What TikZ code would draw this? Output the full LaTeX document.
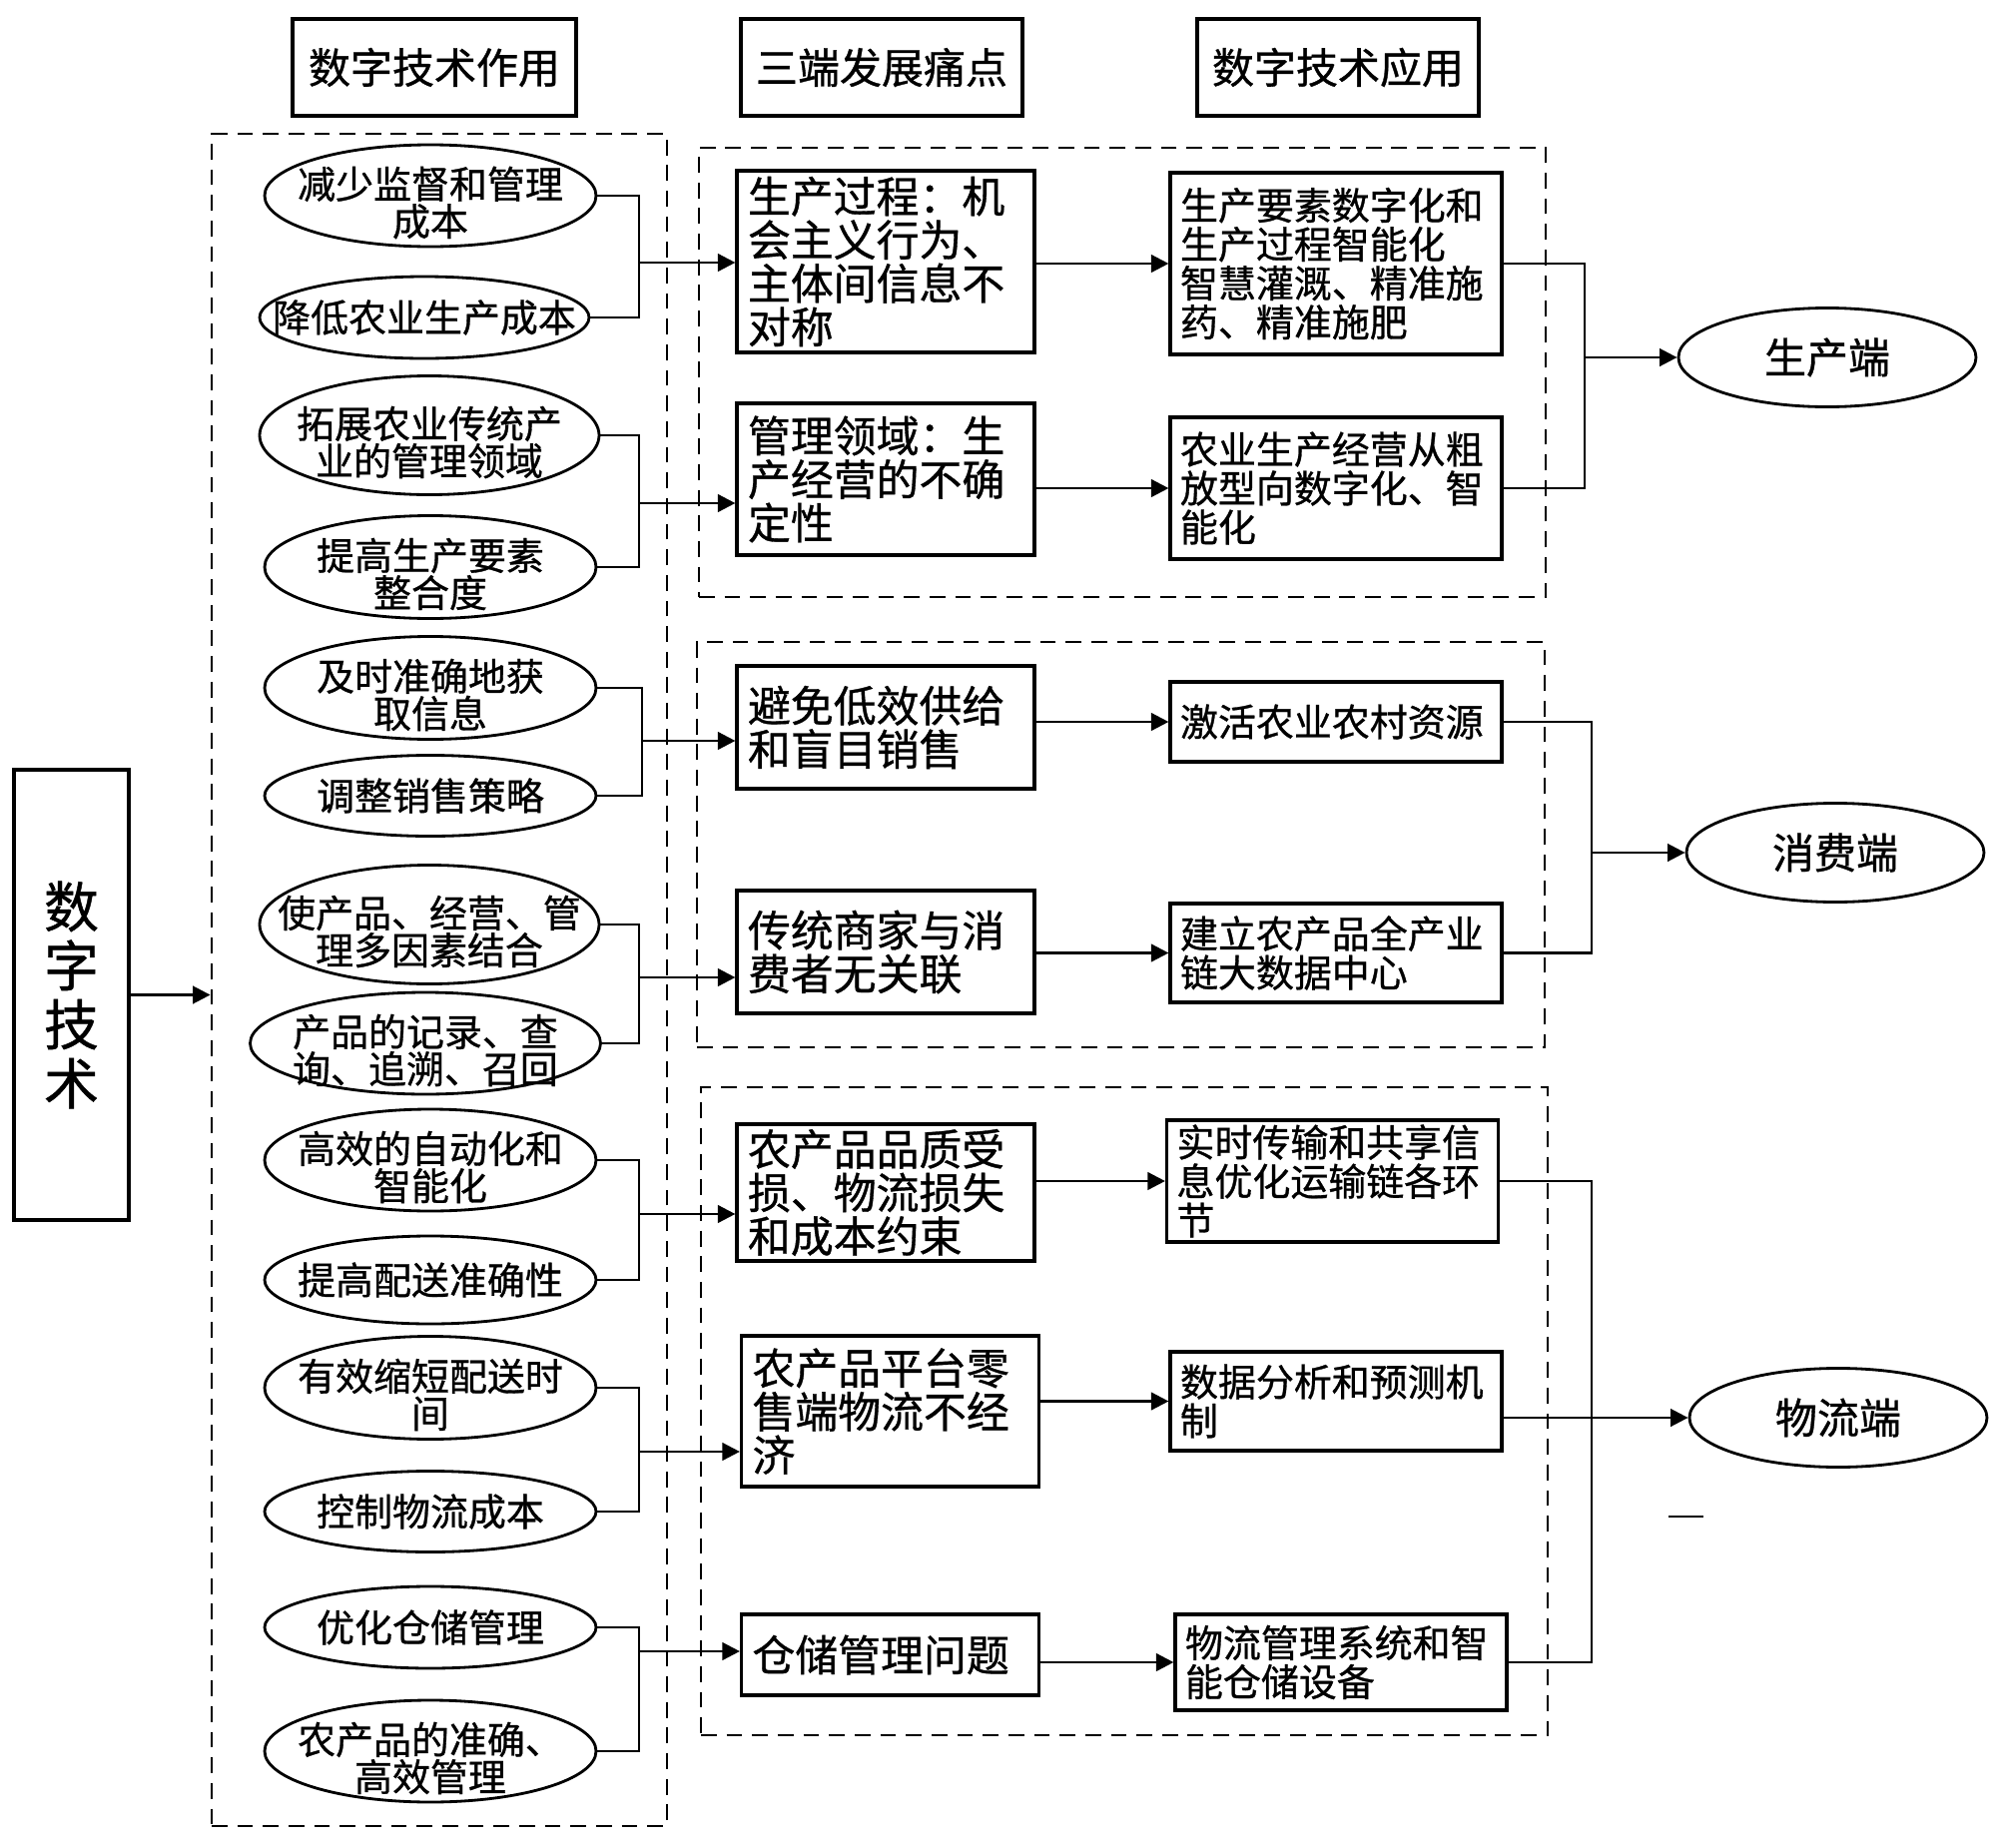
\documentclass[tikz,border=0pt]{standalone}
\usepackage{fontspec}
\setmainfont{Noto Sans CJK SC}[FakeBold=0.8]
\usetikzlibrary{shapes.geometric,arrows.meta,calc}
\newcommand{\fz}[2]{\fontsize{#1}{#2}\selectfont}
\begin{document}
\begin{tikzpicture}[x=0.1mm,y=-0.1mm,
  ln/.style={line width=0.75pt},
  arr/.style={line width=0.75pt,-{Triangle[length=5pt,width=5pt]}},
  dbox/.style={draw,rectangle,inner sep=0,dash pattern=on 4.5pt off 2.8pt,line width=0.8pt},
  hbox/.style={draw,line width=0.9pt,rectangle,inner sep=0,align=center,font={\fz{11.95pt}{13pt}}},
  mbox/.style={draw,line width=0.9pt,rectangle,inner xsep=1.1mm,inner ysep=0.3mm,text width=27.6mm,align=left,font={\fz{12.2pt}{12.4pt}}},
  rbox/.style={draw,line width=0.9pt,rectangle,inner xsep=1.0mm,inner ysep=0.3mm,text width=31.2mm,align=left,font={\fz{10.8pt}{11.1pt}}},
  ell/.style={draw,ellipse,line width=0.8pt,inner sep=0},
  etxt/.style={inner sep=0,align=center,font={\fz{10.8pt}{10.6pt}}},
  etxtb/.style={etxt,yshift=-0.7mm},
  tell/.style={draw,ellipse,line width=0.8pt,inner sep=0,minimum width=29.8mm,minimum height=9.9mm,font={\fz{11.95pt}{13pt}}},
]
\useasboundingbox (0,0) rectangle (2000,1851);

% dashed groups
\node[dbox,minimum width=45.6mm,minimum height=169.5mm] (lb) at (440,981.5) {};
\node[dbox,minimum width=84.8mm,minimum height=45.0mm] (rb1) at (1124,373) {};
\node[dbox,minimum width=84.9mm,minimum height=40.6mm] (rb2) at (1122.5,846) {};
\node[dbox,minimum width=84.8mm,minimum height=64.9mm] (rb3) at (1126,1413.5) {};

% headers
\node[hbox,minimum width=28.4mm,minimum height=9.7mm] (h1) at (435,67.5) {数字技术作用};
\node[hbox,minimum width=28.2mm,minimum height=9.7mm] (h2) at (883,67.5) {三端发展痛点};
\node[hbox,minimum width=28.2mm,minimum height=9.7mm] (h3) at (1340,67.5) {数字技术应用};

% digital technology
\node[hbox,minimum width=11.5mm,minimum height=45.1mm,font={\fz{15.6pt}{16.8pt}}] (d) at (71.5,996.5) {数\\字\\技\\术};

% left ellipses
\node[ell,minimum width=33.2mm,minimum height=10.2mm] (e1) at (431,196) {};
\node[etxtb] (e1t) at (e1) {减少监督和管理\\成本};
\node[ell,minimum width=33.0mm,minimum height=8.2mm] (e2) at (425,318) {};
\node[etxt] (e2t) at (e2) {降低农业生产成本};
\node[ell,minimum width=34.0mm,minimum height=11.9mm] (e3) at (430,436) {};
\node[etxtb] (e3t) at (e3) {拓展农业传统产\\业的管理领域};
\node[ell,minimum width=33.2mm,minimum height=10.3mm] (e4) at (431,568) {};
\node[etxtb] (e4t) at (e4) {提高生产要素\\整合度};
\node[ell,minimum width=33.2mm,minimum height=10.3mm] (e5) at (431,689) {};
\node[etxtb] (e5t) at (e5) {及时准确地获\\取信息};
\node[ell,minimum width=33.2mm,minimum height=8.1mm] (e6) at (431,797) {};
\node[etxt] (e6t) at (e6) {调整销售策略};
\node[ell,minimum width=34.0mm,minimum height=11.9mm] (e7) at (430,926) {};
\node[etxtb] (e7t) at (e7) {使产品、经营、管\\理多因素结合};
\node[ell,minimum width=35.1mm,minimum height=10.2mm] (e8) at (426,1045) {};
\node[etxtb] (e8t) at (e8) {产品的记录、查\\询、追溯、召回};
\node[ell,minimum width=33.2mm,minimum height=10.2mm] (e9) at (431,1162) {};
\node[etxtb] (e9t) at (e9) {高效的自动化和\\智能化};
\node[ell,minimum width=33.2mm,minimum height=8.8mm] (e10) at (431,1282) {};
\node[etxt] (e10t) at (e10) {提高配送准确性};
\node[ell,minimum width=33.2mm,minimum height=10.3mm] (e11) at (431,1390) {};
\node[etxtb] (e11t) at (e11) {有效缩短配送时\\间};
\node[ell,minimum width=33.2mm,minimum height=8.1mm] (e12) at (431,1514) {};
\node[etxt] (e12t) at (e12) {控制物流成本};
\node[ell,minimum width=33.2mm,minimum height=8.2mm] (e13) at (431,1630) {};
\node[etxt] (e13t) at (e13) {优化仓储管理};
\node[ell,minimum width=33.2mm,minimum height=10.2mm] (e14) at (431,1754) {};
\node[etxtb] (e14t) at (e14) {农产品的准确、\\高效管理};

% middle boxes
\node[mbox,minimum height=18.2mm] (m1) at (887,262) {生产过程：机\\会主义行为、\\主体间信息不\\对称};
\node[mbox,minimum height=15.2mm] (m2) at (887,480) {管理领域：生\\产经营的不确\\定性};
\node[mbox,minimum height=12.3mm] (m3) at (887,728.5) {避免低效供给\\和盲目销售};
\node[mbox,minimum height=12.3mm] (m4) at (887,953.5) {传统商家与消\\费者无关联};
\node[mbox,minimum height=13.7mm] (m5) at (887,1194.5) {农产品品质受\\损、物流损失\\和成本约束};
\node[mbox,minimum height=15.1mm] (m6) at (891.5,1413.5) {农产品平台零\\售端物流不经\\济};
\node[mbox,minimum height=8.1mm] (m7) at (891.5,1657.5) {仓储管理问题};

% right boxes
\node[rbox,minimum height=18.2mm] (r1) at (1338,264) {生产要素数字化和\\生产过程智能化\\智慧灌溉、精准施\\药、精准施肥};
\node[rbox,minimum height=14.2mm] (r2) at (1338,489) {农业生产经营从粗\\放型向数字化、智\\能化};
\node[rbox,minimum height=8.0mm] (r3) at (1338,723) {激活农业农村资源};
\node[rbox,minimum height=9.9mm] (r4) at (1338,954.5) {建立农产品全产业\\链大数据中心};
\node[rbox,minimum height=12.2mm] (r5) at (1334.5,1183) {实时传输和共享信\\息优化运输链各环\\节};
\node[rbox,minimum height=9.9mm] (r6) at (1338,1403.5) {数据分析和预测机\\制};
\node[rbox,minimum height=9.6mm] (r7) at (1343,1665) {物流管理系统和智\\能仓储设备};

% terminal ellipses
\node[tell] (t1) at (1830,358) {生产端};
\node[tell] (t2) at (1838,854) {消费端};
\node[tell] (t3) at (1841,1420) {物流端};

% digital technology -> group
\draw[arr] (d.east) -- (d.east -| lb.west);

% left groups -> middle boxes
\coordinate (j1) at (640,263);
\coordinate (j2) at (640,504);
\coordinate (j3) at (643,742);
\coordinate (j4) at (640,979);
\coordinate (j5) at (640,1216);
\coordinate (j6) at (640,1454);
\coordinate (j7) at (640,1654);
\foreach \a/\b/\j/\m in {e1/e2/j1/m1,e3/e4/j2/m2,e5/e6/j3/m3,e7/e8/j4/m4,e9/e10/j5/m5,e11/e12/j6/m6,e13/e14/j7/m7}{
  \draw[ln] (\a.east) -- (\a.east -| \j) -- (\b.east -| \j) -- (\b.east);
  \draw[arr] (\j) -- (\j -| \m.west);
}

% middle -> right
\foreach \m/\r in {m1/r1,m2/r2,m3/r3,m4/r4,m5/r5,m6/r6,m7/r7}{
  \draw[arr] (\m.east |- \r.west) -- (\r.west);
}

% right -> terminals
\coordinate (k1) at (1587,358);
\draw[ln] (r1.east) -- (r1.east -| k1) -- (r2.east -| k1) -- (r2.east);
\draw[arr] (k1) -- (t1.west);
\coordinate (k2) at (1594,854);
\draw[ln] (r3.east) -- (r3.east -| k2) -- (r4.east -| k2) -- (r4.east);
\draw[arr] (k2) -- (t2.west);
\coordinate (k3) at (1594,1420);
\draw[ln] (r5.east) -- (r5.east -| k3) -- (r7.east -| k3) -- (r7.east);
\draw[arr] (r6.east |- t3.west) -- (t3.west);

% stray mark
\draw[ln] (1671,1519) -- (1706,1519);
\end{tikzpicture}
\end{document}
